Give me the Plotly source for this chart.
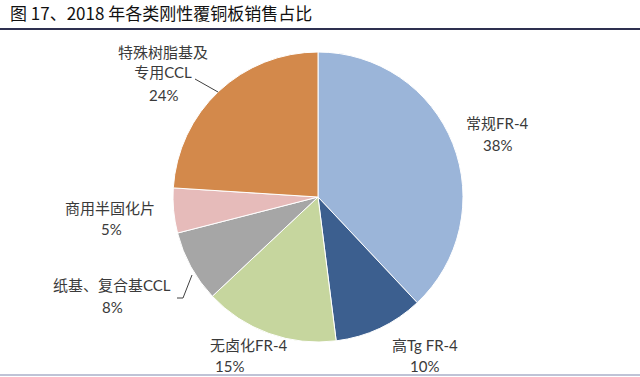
import plotly.graph_objects as go

W, H = 640, 377

# Data
categories = ["常规FR-4", "高Tg FR-4", "无卤化FR-4", "纸基、复合基CCL", "商用半固化片", "特殊树脂基及<br>专用CCL"]
shares = [38, 10, 15, 8, 5, 24]
colors = ["#9BB5D9", "#3C5F8F", "#C6D69E", "#A6A6A6", "#E6BBBA", "#D3894B"]
title_text = "图 17、2018 年各类刚性覆铜板销售占比"

# layout helpers (pixel -> paper)
def px(x):
    return x / W

def py(y):
    return 1 - y / H

cx, cy, r = 318, 197, 145

fig = go.Figure(go.Pie(
    labels=categories,
    values=shares,
    sort=False,
    direction="clockwise",
    rotation=0,
    marker=dict(colors=colors, line=dict(color="white", width=1)),
    textinfo="none",
    hoverinfo="label+percent",
    domain=dict(x=[px(cx - r), px(cx + r)], y=[py(cy + r), py(cy - r)]),
    showlegend=False,
))

# label positions (name line center, percent line center) in pixels
name_pos = [(497, 123), (425, 345), (248, 345), (112, 285), (110, 208), (163, 62)]
pct_pos = [(497, 145), (424, 366), (229, 366), (112, 307), (111, 229), (163, 95)]

font_main = "Lato, Noto Sans CJK SC, sans-serif"
label_color = "#3A3A3A"

annotations = []
for name, v, (nx, ny), (qx, qy) in zip(categories, shares, name_pos, pct_pos):
    annotations.append(dict(
        x=px(nx), y=py(ny), xref="paper", yref="paper", text=name,
        showarrow=False, xanchor="center", yanchor="middle",
        font=dict(family=font_main, size=15, color=label_color),
    ))
    annotations.append(dict(
        x=px(qx), y=py(qy), xref="paper", yref="paper", text=f"{v}%",
        showarrow=False, xanchor="center", yanchor="middle",
        font=dict(family="Lato, sans-serif", size=15, color=label_color),
    ))

annotations.append(dict(
    x=px(8), y=py(13), xref="paper", yref="paper", text=title_text,
    showarrow=False, xanchor="left", yanchor="middle",
    font=dict(family="Noto Sans CJK SC, sans-serif", size=17, color="#111111"),
))

shapes = [
    dict(type="line", xref="paper", yref="paper", x0=0, x1=1, y0=py(29), y1=py(29),
         line=dict(color="#2E3050", width=2)),
    dict(type="line", xref="paper", yref="paper", x0=0, x1=1, y0=py(375), y1=py(375),
         line=dict(color="#BFC3D6", width=2)),
    # leader lines
    dict(type="line", xref="paper", yref="paper", x0=px(195), y0=py(79), x1=px(218), y1=py(92),
         line=dict(color="#404040", width=1)),
    dict(type="path", xref="paper", yref="paper",
         path=f"M {px(192)},{py(275)} L {px(183)},{py(298)} L {px(177)},{py(298)}",
         line=dict(color="#404040", width=1)),
]

fig.update_layout(
    width=W, height=H,
    margin=dict(l=0, r=0, t=0, b=0),
    paper_bgcolor="white",
    plot_bgcolor="white",
    annotations=annotations,
    shapes=shapes,
)

fig.write_html(
    "out.html",
    config={"displayModeBar": False},
    post_script="document.body.style.margin='0';document.body.style.overflow='hidden';",
)
